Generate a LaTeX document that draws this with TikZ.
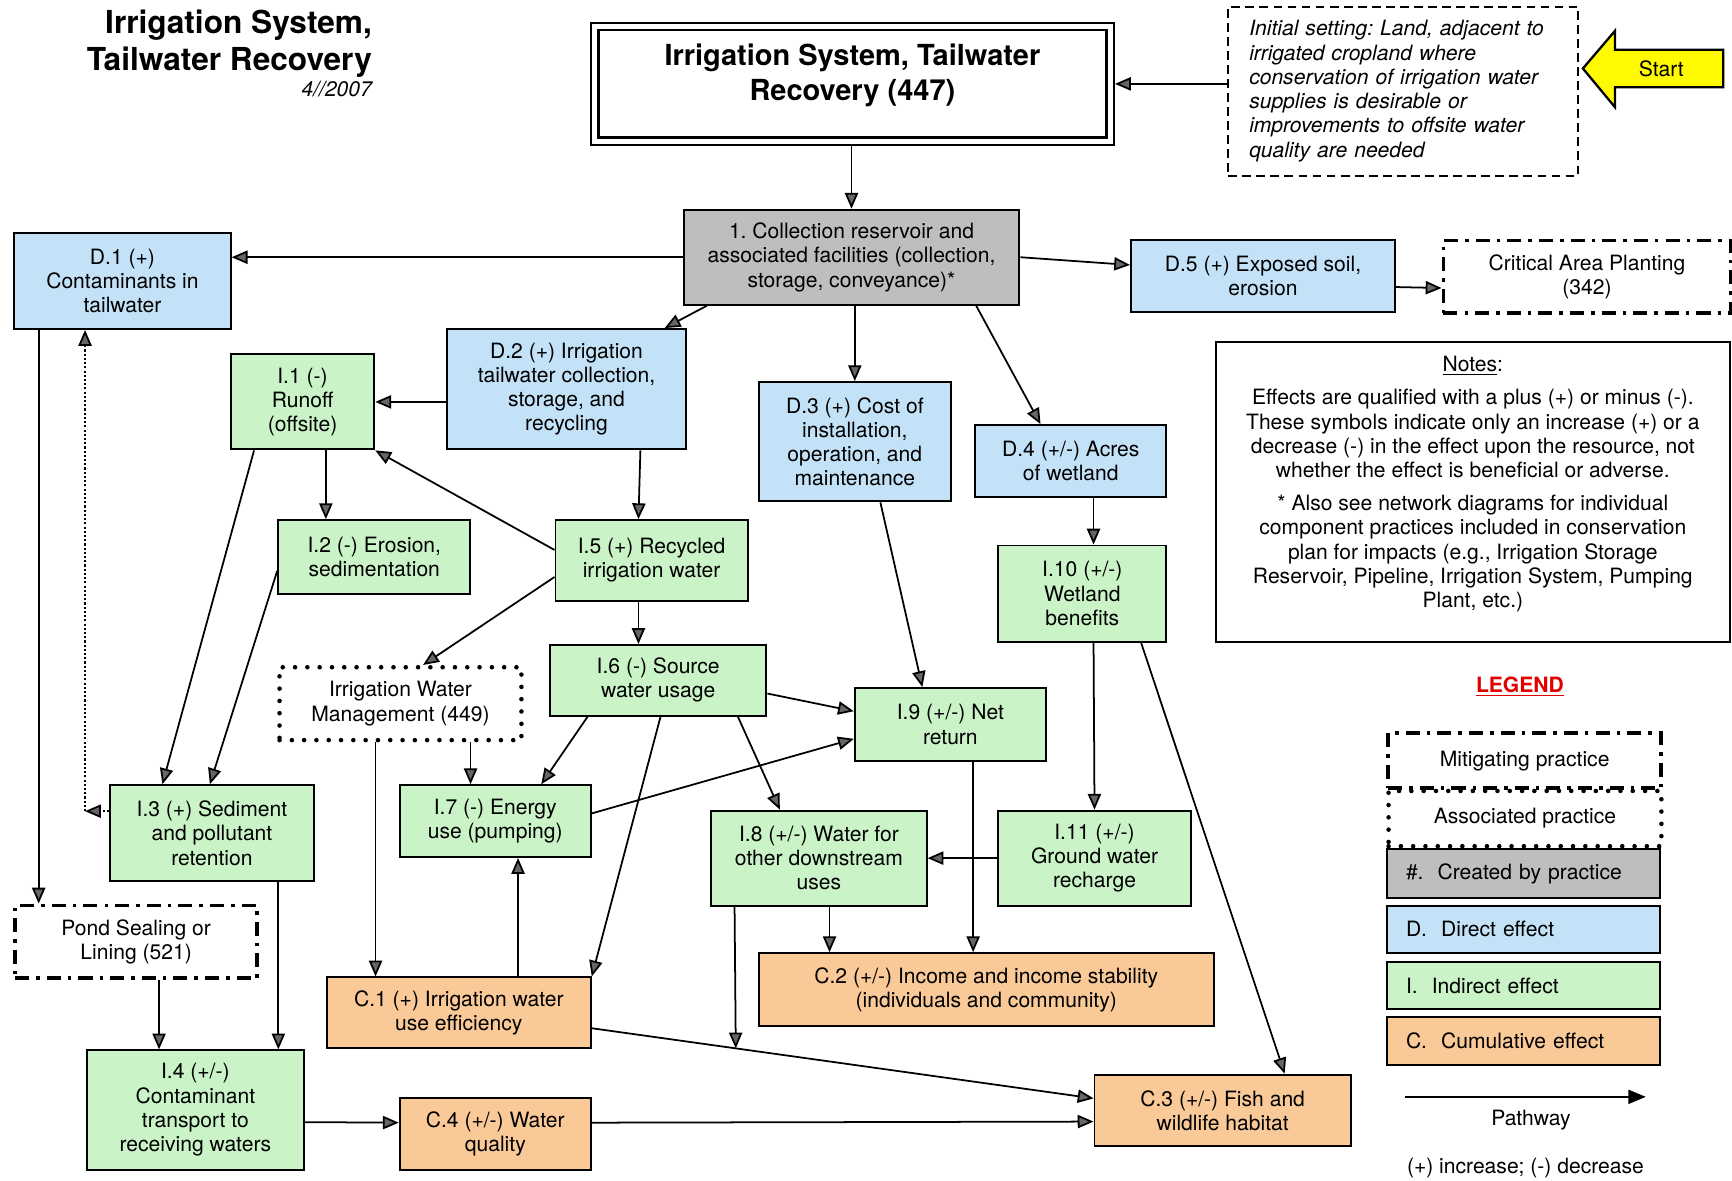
\documentclass[tikz,border=0pt]{standalone}
\usepackage{fontspec}
\setmainfont{TeX Gyre Heros}
\usetikzlibrary{arrows.meta,calc}

\definecolor{createdgray}{RGB}{190,190,190}
\definecolor{directblue}{RGB}{196,226,247}
\definecolor{indirectgreen}{RGB}{203,243,200}
\definecolor{cumulorange}{RGB}{249,201,152}
\definecolor{legendred}{RGB}{225,0,0}
\definecolor{startyellow}{RGB}{255,250,0}

\newcommand{\boxfont}{\fontsize{12}{13.8}\selectfont}
\newcommand{\pxu}{0.022092cm}
\frenchspacing

\tikzset{
  box/.style={draw, line width=1.1pt, anchor=north west, align=center, inner sep=2pt, font=\boxfont},
  sz/.style 2 args={minimum width=#1*\pxu, minimum height=#2*\pxu},
  created/.style={box, fill=createdgray},
  direct/.style={box, fill=directblue},
  indirect/.style={box, fill=indirectgreen},
  cumul/.style={box, fill=cumulorange},
  mitigating/.style={box, line width=2.2pt, dash pattern=on 8pt off 4pt on 2pt off 4pt},
  associated/.style={box, line width=2.6pt, line cap=round, dash pattern=on 0pt off 7pt},
  legrow/.style={text width=213*\pxu, inner xsep=17*\pxu, align=left},
  link/.style={->, line width=1pt},
  assoclink/.style={->, line width=1pt, dash pattern=on 1.2pt off 1.2pt},
}

\begin{document}
\begin{tikzpicture}[x=\pxu, y=-\pxu, >={Triangle[length=9pt,width=7.5pt,fill=black!60]}]
\useasboundingbox (0,0) rectangle (1568,1069);

% title block
\node[anchor=north east, align=right, inner sep=0pt, font=\fontsize{18}{20.7}\selectfont\bfseries] (title) at (337,9) {Irrigation System,\\Tailwater Recovery};
\node[anchor=base east, inner sep=0pt, font=\fontsize{12}{14}\selectfont\itshape] (date) at (337,87) {4//2007};

% practice and starting point
\node[box, sz={466.5}{104}, double, double distance=2.8pt, line width=1.4pt, outer sep=2.8pt,
  label={[name=practicetext, font=\fontsize{16.5}{19.8}\selectfont\bfseries, align=center, yshift=7.5*\pxu]center:{Irrigation System, Tailwater\\Recovery (447)}}] (practice) at (534,19.5) {};
\node[box, sz={317}{153}, line width=1.2pt, dash pattern=on 5pt off 3pt, text width=279*\pxu, inner xsep=19*\pxu, align=left, font=\boxfont\itshape] (initial) at (1111,5)
  {Initial setting: Land, adjacent to\\irrigated cropland where\\conservation of irrigation water\\supplies is desirable or\\improvements to offsite water\\quality are needed};
\draw[line width=1.3pt, fill=startyellow] (1433,62) -- (1462,28) -- (1462,45) -- (1560,45) -- (1560,79) -- (1462,79) -- (1462,97) -- cycle;
\node[font=\boxfont] (start) at (1504,62) {Start};

% effects
\node[created, sz={304}{86}] (coll) at (618,189) {1. Collection reservoir and\\associated facilities (collection,\\storage, conveyance)*};
\node[direct, sz={196}{87}] (d1) at (12,210) {D.1 (+)\\Contaminants in\\tailwater};
\node[direct, sz={239}{66}] (d5) at (1023,216) {D.5 (+) Exposed soil,\\erosion};
\node[mitigating, sz={260}{66}] (cap) at (1305,216) {Critical Area Planting\\(342)};
\node[direct, sz={216}{109}] (d2) at (404,297) {D.2 (+) Irrigation\\tailwater collection,\\storage, and\\recycling};
\node[direct, sz={174}{108}] (d3) at (686,345) {D.3 (+) Cost of\\installation,\\operation, and\\maintenance};
\node[direct, sz={173}{65}] (d4) at (882,384) {D.4 (+/-) Acres\\of wetland};
\node[indirect, sz={130}{86}] (i1) at (208,320) {I.1 (-)\\Runoff\\(offsite)};
\node[indirect, sz={174}{67}] (i2) at (251,470) {I.2 (-) Erosion,\\sedimentation};
\node[indirect, sz={174}{73}] (i5) at (502,470) {I.5 (+) Recycled\\irrigation water};
\node[indirect, sz={196}{64}] (i6) at (497,583) {I.6 (-) Source\\water usage};
\node[associated, sz={219}{66}] (iwm) at (251,602) {Irrigation Water\\Management (449)};
\node[indirect, sz={173}{66}] (i9) at (773,622) {I.9 (+/-) Net\\return};
\node[indirect, sz={152}{87}] (i10) at (903,493) {I.10 (+/-)\\Wetland\\benefits};
\node[indirect, sz={184}{87}] (i3) at (99,710) {I.3 (+) Sediment\\and pollutant\\retention};
\node[mitigating, sz={219}{66}] (ps) at (12,818) {Pond Sealing or\\Lining (521)};
\node[indirect, sz={173}{65}] (i7) at (361,710) {I.7 (-) Energy\\use (pumping)};
\node[cumul, sz={239}{64}] (c1) at (295,884) {C.1 (+) Irrigation water\\use efficiency};
\node[indirect, sz={195}{86}] (i8) at (643,733) {I.8 (+/-) Water for\\other downstream\\uses};
\node[indirect, sz={174}{86}] (i11) at (903,733) {I.11 (+/-)\\Ground water\\recharge};
\node[cumul, sz={412}{66}] (c2) at (686,862) {C.2 (+/-) Income and income stability\\(individuals and community)};
\node[cumul, sz={232}{65}] (c3) at (990,972) {C.3 (+/-) Fish and\\wildlife habitat};
\node[indirect, sz={196}{108}] (i4) at (78,950) {I.4 (+/-)\\Contaminant\\transport to\\receiving waters};
\node[cumul, sz={173}{65}] (c4) at (361,993) {C.4 (+/-) Water\\quality};

% notes
\node[box, sz={465}{271}] (notes) at (1100,309) {};
\node[font=\boxfont, align=center, inner sep=0pt] (notestext) at ($(notes.center)+(0,-7)$) {\underline{Notes}:\\[5pt]
  Effects are qualified with a plus (+) or minus (-).\\
  These symbols indicate only an increase (+) or a\\
  decrease (-) in the effect upon the resource, not\\
  whether the effect is beneficial or adverse.\\[5pt]
  * Also see network diagrams for individual\\
  component practices included in conservation\\
  plan for impacts (e.g., Irrigation Storage\\
  Reservoir, Pipeline, Irrigation System, Pumping\\
  Plant, etc.)};

% connectors
\draw[link] (initial.west |- practice.east) -- (practice.east);
\draw[link] (practice.south -| coll.north) -- (coll.north);
\draw[link] (coll.west) -- (coll.west -| d1.east);
\draw[link] (coll.east) -- ($(d5.west)+(0,-10)$);
\draw[link] ($(d5.east)+(0,10)$) -- ($(cap.west)+(0,10)$);
\draw[link] ($(coll.south west)+(22,0)$) -- ($(d2.north east)+(-20,0)$);
\draw[link] (coll.south -| d3.north) -- (d3.north);
\draw[link] ($(coll.south east)+(-40,0)$) -- ($(d4.north west)+(60,0)$);
\draw[link] (d2.west |- i1.east) -- (i1.east);
\draw[link] ($(i1.south west)+(87,0)$) -- ($(i2.north west)+(44,0)$);
\draw[link] ($(d2.south east)+(-42,0)$) -- ($(i5.north west)+(76,0)$);
\draw[link] ($(i5.west)+(0,-9.5)$) -- (i1.south east);
\draw[link] ($(i5.west)+(0,15)$) -- ($(iwm.north west)+(132,0)$);
\draw[link] ($(i5.south west)+(76,0)$) -- ($(i6.north west)+(81,0)$);
\draw[link] ($(d3.south west)+(111,0)$) -- ($(i9.north west)+(62,0)$);
\draw[link] ($(i6.east)+(0,12)$) -- ($(i9.west)+(0,-12)$);
\draw[link] ($(i7.east)+(0,-7)$) -- ($(i9.west)+(0,13)$);
\draw[link] ($(d4.south west)+(108,0)$) -- ($(i10.north west)+(87,0)$);
\draw[link] ($(i10.south west)+(87,0)$) -- (i11.north);
\draw[link] ($(i10.south west)+(130,0)$) -- ($(c3.north west)+(173,0)$);
\draw[link] (i11.west) -- (i8.east);
\draw[link] ($(i9.south west)+(108,0)$) -- ($(c2.north west)+(195,0)$);
\draw[link] ($(i8.south west)+(108,0)$) -- ($(c2.north west)+(65,0)$);
\draw[link] ($(i6.south west)+(171,0)$) -- ($(i8.north west)+(63,0)$);
\draw[link] ($(i6.south west)+(35,0)$) -- ($(i7.north west)+(129,0)$);
\draw[link] ($(i6.south west)+(101,0)$) -- (c1.north east);
\draw[link] ($(iwm.south west)+(175,0)$) -- ($(i7.north west)+(65,0)$);
\draw[link] ($(iwm.south west)+(89,0)$) -- ($(c1.north west)+(45,0)$);
\draw[link] ($(c1.north west)+(174,0)$) -- ($(i7.south west)+(108,0)$);
\draw[link] ($(c1.east)+(0,14)$) -- coordinate[pos=0.287] (join) ($(c3.west)+(0,-11)$);
\draw[link] ($(i8.south west)+(22,0)$) -- (join);
\draw[link] ($(c4.east)+(0,-10)$) -- ($(c3.west)+(0,10)$);
\draw[link] ($(i4.east)+(0,11)$) -- ($(c4.west)+(0,-10)$);
\draw[link] ($(ps.south west)+(132,0)$) -- ($(i4.north west)+(66,0)$);
\draw[link] ($(i3.south west)+(153,0)$) -- ($(i4.north west)+(174,0)$);
\draw[link] ($(i1.south west)+(22,0)$) -- ($(i3.north west)+(48,0)$);
\draw[link] ($(i2.south west)+(0,-22)$) -- ($(i3.north west)+(91,0)$);
\draw[link] ($(d1.south west)+(23,0)$) -- ($(ps.north west)+(23,0)$);
\coordinate (i3tap) at ($(i3.west)+(0,-20)$);
\coordinate (d1tap) at ($(d1.south west)+(65,0)$);
\draw[assoclink] (i3tap) -- (i3tap -| d1tap);
\draw[assoclink] (i3tap -| d1tap) -- (d1tap);

% legend
\node[font=\boxfont\bfseries, text=legendred] (legend) at (1376,622) {\underline{LEGEND}};
\node[mitigating, sz={247}{50}] (legmit) at (1255,662) {Mitigating practice};
\node[associated, sz={247}{50}] (legassoc) at (1255,714) {Associated practice};
\node[created, sz={247}{44}, legrow] (legcreated) at (1255,768) {\#.\ \ Created by practice};
\node[direct, sz={247}{43}, legrow] (legdirect) at (1255,819) {D.\ \ Direct effect};
\node[indirect, sz={247}{43}, legrow] (legindirect) at (1255,870) {I.\ \ Indirect effect};
\node[cumul, sz={247}{43}, legrow] (legcumul) at (1255,920) {C.\ \ Cumulative effect};
\coordinate (pathfrom) at (1272,993);
\coordinate (pathto) at (1490,993);
\draw[line width=1.1pt, -{Triangle[length=10pt,width=8pt]}] (pathfrom) -- (pathto);
\node[font=\boxfont] (pathlabel) at (1386,1014) {Pathway};
\node[font=\boxfont] (signs) at (1381,1057) {(+) increase; (-) decrease};
\end{tikzpicture}
\end{document}
